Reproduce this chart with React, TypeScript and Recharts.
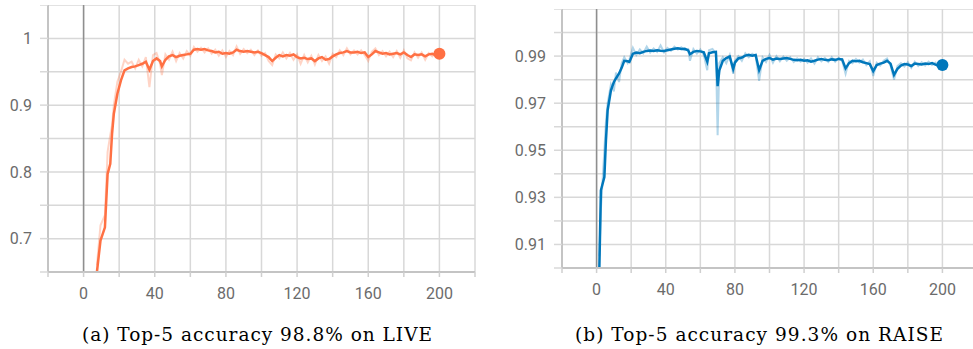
import React from 'react';
import {
  LineChart,
  Line,
  XAxis,
  YAxis,
  CartesianGrid,
  ReferenceLine,
  ReferenceDot,
} from 'recharts';

// ---- (a) LIVE ----
const liveEpochs = [
  7.5, 9.5, 12, 13.5, 15, 16, 17, 19, 21, 23,
  25, 27, 29, 31, 33, 35, 37, 39, 41, 43,
  44,
  46, 48, 50, 52, 54, 56, 58, 60, 62, 64,
  66, 68, 70, 72, 74, 76, 78, 80, 82, 84,
  86, 88, 90, 92, 94, 96, 98, 100, 102, 104,
  106, 108, 110, 112, 114, 116, 118, 120, 122, 124,
  126, 128, 130, 132, 134, 136, 138, 140, 142, 144,
  146, 148, 150, 152, 154, 156, 158, 160, 162, 164,
  166, 168, 170, 172, 174, 176, 178, 180, 182, 184,
  186, 188, 190, 192, 194, 196, 198, 200,
];
const liveSmooth = [
  0.65, 0.697, 0.717, 0.797, 0.812, 0.857, 0.887, 0.917, 0.937, 0.952,
  0.955, 0.957, 0.958, 0.96, 0.962, 0.965, 0.953, 0.966, 0.97, 0.966,
  0.958,
  0.968, 0.973, 0.975, 0.972, 0.974, 0.975, 0.976, 0.977, 0.983, 0.984,
  0.983, 0.984, 0.982, 0.981, 0.979, 0.98, 0.977, 0.978, 0.977, 0.979,
  0.983, 0.981, 0.98, 0.981, 0.98, 0.979, 0.98, 0.978, 0.975, 0.972,
  0.966, 0.971, 0.975, 0.973, 0.975, 0.974, 0.976, 0.972, 0.97, 0.971,
  0.969, 0.97, 0.966, 0.97, 0.972, 0.968, 0.969, 0.973, 0.976, 0.978,
  0.979, 0.981, 0.979, 0.979, 0.98, 0.978, 0.979, 0.972, 0.976, 0.981,
  0.979, 0.977, 0.978, 0.976, 0.977, 0.978, 0.976, 0.979, 0.975, 0.972,
  0.976, 0.975, 0.976, 0.973, 0.976, 0.977, 0.975, 0.977,
];
const liveRaw = [
  0.66, 0.72, 0.735, 0.83, 0.855, 0.87, 0.9, 0.935, 0.95, 0.968,
  0.962, 0.965, 0.955, 0.968, 0.958, 0.972, 0.927, 0.975, 0.978, 0.962,
  0.945,
  0.976, 0.968, 0.98, 0.966, 0.978, 0.97, 0.981, 0.974, 0.987, 0.98,
  0.986, 0.979, 0.985, 0.977, 0.983, 0.974, 0.982, 0.972, 0.981, 0.975,
  0.988, 0.977, 0.984, 0.978, 0.983, 0.975, 0.982, 0.974, 0.978, 0.966,
  0.96, 0.976, 0.97, 0.979, 0.97, 0.978, 0.968, 0.976, 0.962, 0.975,
  0.964, 0.974, 0.961, 0.975, 0.966, 0.973, 0.962, 0.977, 0.972, 0.982,
  0.975, 0.985, 0.976, 0.982, 0.976, 0.982, 0.975, 0.966, 0.98, 0.985,
  0.975, 0.981, 0.973, 0.98, 0.972, 0.981, 0.971, 0.982, 0.97, 0.967,
  0.979, 0.971, 0.979, 0.968, 0.978, 0.973, 0.979, 0.976,
];
const liveYTicks = [0.65, 0.7, 0.75, 0.8, 0.85, 0.9, 0.95, 1, 1.05];
const liveYLabels = [0.7, 0.8, 0.9, 1];

// ---- (b) RAISE ----
const raiseEpochs = [
  1.6, 2.5, 4.5, 5.4, 6.4, 8.3, 10, 11.2, 13, 14.5, 16,
  18, 19,
  21, 23, 25, 27, 29, 31, 33, 35, 37, 39, 41, 43, 45, 47, 49, 51, 53,
  54,
  56, 58, 60, 62, 64,
  65,
  67, 69,
  70,
  71, 73, 75, 77, 79,
  80,
  82, 84, 86, 88, 90, 92, 94, 96, 98, 100,
  102, 104, 106, 108, 110, 112, 114, 116, 118, 120,
  122, 124, 126, 128, 130, 132, 134, 136, 138, 140,
  142, 144, 146, 148, 150, 152, 154, 156, 158, 160,
  162, 164, 166, 168, 170, 172, 174, 176, 178, 180,
  182, 184, 186, 188, 190, 192, 194, 196, 198, 200,
];
const raiseSmooth = [
  0.9, 0.933, 0.9386, 0.954, 0.967, 0.9755, 0.979, 0.9805, 0.9826, 0.985, 0.988,
  0.9878, 0.9875,
  0.991, 0.9915, 0.9912, 0.9918, 0.9922, 0.9924, 0.9922, 0.9925, 0.9923, 0.9922, 0.9925, 0.9928, 0.9931, 0.9933, 0.993, 0.9931, 0.9924,
  0.9908,
  0.9918, 0.9922, 0.992, 0.9916, 0.9876,
  0.9912,
  0.9916, 0.9918,
  0.9772,
  0.984, 0.988, 0.9892, 0.9898, 0.9845,
  0.9872,
  0.989, 0.9894, 0.9902, 0.9906, 0.9902, 0.9905, 0.984, 0.988, 0.9888, 0.9892,
  0.9885, 0.989, 0.9888, 0.989, 0.9892, 0.9888, 0.9884, 0.9882, 0.9884, 0.988,
  0.9882, 0.9876, 0.988, 0.9885, 0.9888, 0.9884, 0.9882, 0.9886, 0.9884, 0.9888,
  0.9886, 0.9848, 0.987, 0.988, 0.9878, 0.988, 0.9874, 0.987, 0.9866, 0.9836,
  0.9862, 0.9868, 0.9872, 0.988, 0.9868, 0.982, 0.9846, 0.986, 0.9866, 0.9864,
  0.9858, 0.9868, 0.9866, 0.9864, 0.9868, 0.9866, 0.987, 0.9864, 0.9858, 0.9862,
];
const raiseRaw = [
  0.905, 0.925, 0.95, 0.962, 0.97, 0.978, 0.975, 0.983, 0.979, 0.987, 0.9895,
  0.987, 0.9885,
  0.9935, 0.9905, 0.9928, 0.9912, 0.994, 0.9915, 0.9932, 0.9918, 0.9945, 0.9916, 0.9935, 0.9922, 0.994, 0.9928, 0.9938, 0.9925, 0.993,
  0.988,
  0.993, 0.991, 0.9928, 0.9905, 0.984,
  0.9925,
  0.993, 0.9912,
  0.9564,
  0.987, 0.9895, 0.987, 0.9905, 0.9825,
  0.988,
  0.99, 0.988, 0.9912, 0.9895, 0.991, 0.99, 0.9795, 0.9895, 0.9875, 0.9905,
  0.9872, 0.99, 0.9878, 0.9898, 0.988, 0.9895, 0.9875, 0.989, 0.9876, 0.9888,
  0.9872, 0.989, 0.9868, 0.9895, 0.9878, 0.9892, 0.9875, 0.9895, 0.9876, 0.9893,
  0.988, 0.9825, 0.988, 0.987, 0.9888, 0.9872, 0.9885, 0.9862, 0.9878, 0.9815,
  0.9872, 0.986, 0.988, 0.989, 0.986, 0.98, 0.9858, 0.987, 0.9856, 0.9874,
  0.985, 0.9876, 0.9858, 0.9874, 0.986, 0.9876, 0.9862, 0.9872, 0.9852, 0.9866,
];
const raiseYTicks = [0.9, 0.91, 0.92, 0.93, 0.94, 0.95, 0.96, 0.97, 0.98, 0.99, 1, 1.01];
const raiseYLabels = [0.91, 0.93, 0.95, 0.97, 0.99];

const xTicks = [-20, 0, 20, 40, 60, 80, 100, 120, 140, 160, 180, 200, 220];
const xLabels = [0, 40, 80, 120, 160, 200];

const captionA = '(a) Top-5 accuracy 98.8% on LIVE';
const captionB = '(b) Top-5 accuracy 99.3% on RAISE';

const tickStyle = { fill: '#6b6b6b', fontSize: 16, fontFamily: 'Roboto, sans-serif' };

interface PanelProps {
  epochs: number[];
  smooth: number[];
  raw: number[];
  color: string;
  yDomain: [number, number];
  yTicks: number[];
  yLabels: number[];
  left: number;
  top: number;
  width: number;
  height: number;
}

const Panel: React.FC<PanelProps> = ({
  epochs, smooth, raw, color, yDomain, yTicks, yLabels, left, top, width, height,
}) => {
  const data = epochs.map((e, i) => ({ epoch: e, smooth: smooth[i], raw: raw[i] }));
  const last = data[data.length - 1];
  return (
    <div style={{ position: 'absolute', left, top }}>
      <LineChart width={width} height={height} data={data} margin={{ top: 0, right: 5, bottom: 0, left: 0 }}>
        <CartesianGrid stroke="#d8d8d8" strokeWidth={1.5} />
        <XAxis
          type="number"
          dataKey="epoch"
          domain={[-20, 220]}
          ticks={xTicks}
          allowDataOverflow
          height={30}
          tickSize={5}
          tickMargin={11}
          tick={tickStyle}
          tickLine={{ stroke: '#cfcfcf', strokeWidth: 1.5 }}
          axisLine={{ stroke: '#c4c4c4', strokeWidth: 2 }}
          tickFormatter={(v: number) => (xLabels.includes(v) ? String(v) : '')}
        />
        <YAxis
          type="number"
          domain={yDomain}
          ticks={yTicks}
          allowDataOverflow
          width={48}
          tickSize={8}
          tickMargin={8}
          tick={tickStyle}
          tickLine={{ stroke: '#d8d8d8', strokeWidth: 1.5 }}
          axisLine={{ stroke: '#c4c4c4', strokeWidth: 2 }}
          tickFormatter={(v: number) =>
            yLabels.some((l) => Math.abs(l - v) < 1e-9) ? String(v) : ''
          }
        />
        <ReferenceLine x={0} stroke="#8f8f8f" strokeWidth={1.5} />
        <Line
          type="linear"
          dataKey="raw"
          stroke={color}
          strokeOpacity={0.3}
          strokeWidth={2}
          dot={false}
          isAnimationActive={false}
        />
        <Line
          type="linear"
          dataKey="smooth"
          stroke={color}
          strokeWidth={2.5}
          dot={false}
          isAnimationActive={false}
        />
        <ReferenceDot x={last.epoch} y={last.smooth} r={6} fill={color} stroke="none" />
      </LineChart>
    </div>
  );
};

export default function App() {
  return (
    <div style={{ position: 'absolute', left: 0, top: 0, width: 973, height: 349, overflow: 'hidden', background: '#fff' }}>
      <Panel
        epochs={liveEpochs}
        smooth={liveSmooth}
        raw={liveRaw}
        color="#ff7043"
        yDomain={[0.65, 1.05]}
        yTicks={liveYTicks}
        yLabels={liveYLabels}
        left={0}
        top={5}
        width={480}
        height={297}
      />
      <Panel
        epochs={raiseEpochs}
        smooth={raiseSmooth}
        raw={raiseRaw}
        color="#0077bb"
        yDomain={[0.9, 1.01]}
        yTicks={raiseYTicks}
        yLabels={raiseYLabels}
        left={514}
        top={9}
        width={468}
        height={289}
      />
      <svg width={973} height={349} style={{ position: 'absolute', left: 0, top: 0, pointerEvents: 'none' }}>
        <text x={257} y={341} textAnchor="middle" textLength={350} lengthAdjust="spacing"
          fontFamily="'DejaVu Serif', serif" fontSize={18.5} fill="#000">
          {captionA}
        </text>
        <text x={759} y={341} textAnchor="middle" textLength={368} lengthAdjust="spacing"
          fontFamily="'DejaVu Serif', serif" fontSize={18.5} fill="#000">
          {captionB}
        </text>
      </svg>
    </div>
  );
}
